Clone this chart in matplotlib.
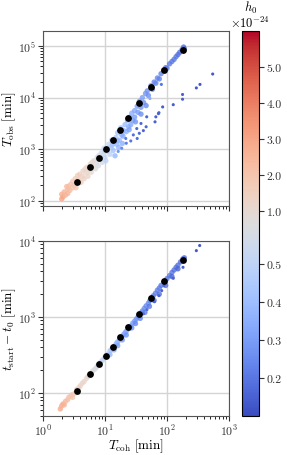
import numpy as np
import matplotlib
matplotlib.use("Agg")
import matplotlib.pyplot as plt
from matplotlib.colors import FuncNorm

plt.rcParams['font.family'] = 'cmr10'
plt.rcParams['mathtext.fontset'] = 'cm'
plt.rcParams['axes.formatter.use_mathtext'] = True
plt.rcParams['font.size'] = 9

### DATA ###

# top panel: T_coh vs T_obs, colour = h0 [1e-24]
top_x = [2.0, 2.0, 2.1, 2.2, 2.3, 2.5, 2.5, 2.6, 2.7, 2.8,
         3.0, 3.0, 3.2, 3.3, 3.4, 3.8, 3.9, 4.1, 4.3, 4.4, 4.6,
         5.0, 5.1, 5.3, 5.6, 5.8, 6.0, 6.5, 6.6, 7.0, 7.3, 7.5, 7.8,
         8.5, 8.7, 9.0, 9.4, 9.6, 10.0, 10.3,
         11, 11.5, 12, 12.5, 12.8, 13.5, 14, 14.5,
         15, 15.5, 16, 16.5, 17, 18, 18.5, 19, 20,
         21, 22, 23, 24, 25, 26, 27, 28, 30, 30,
         33, 34, 36, 38, 40, 42, 45,
         48, 50, 55, 58, 62, 66, 70, 75, 80,
         88, 95, 100, 110, 120, 130, 140, 150, 160, 175, 185, 190,
         2.4, 3.6, 4.8, 6.2, 8.0, 9.8, 11.2, 13.0, 15.8, 19.5, 24.5, 31, 38, 46]
top_y = [110, 135, 120, 150, 130, 170, 140, 195, 160, 210,
         180, 240, 200, 270, 180, 260, 330, 230, 300, 380, 270,
         350, 450, 300, 400, 520, 360, 480, 600, 420, 560, 700, 480,
         650, 850, 560, 780, 1050, 700, 600,
         900, 1250, 800, 1100, 1500, 950, 1300, 750,
         1700, 1250, 2100, 1100, 1500, 2600, 1900, 1300, 2300,
         3000, 2200, 3600, 2700, 4200, 3000, 5000, 3600, 5600, 4200,
         6800, 5200, 8500, 6500, 10000, 8000, 12000,
         13500, 11000, 17000, 14500, 20000, 19000, 24000, 23000, 29000,
         34000, 38000, 37000, 45000, 50000, 55000, 62000, 68000, 75000, 85000, 95000, 88000,
         190, 310, 420, 560, 760, 930, 1050, 1200, 1450, 1800, 2400, 3400, 4800, 7000]
top_h = [3.0, 2.7, 2.9, 2.5, 2.6, 2.3, 2.5, 2.0, 2.3, 1.9,
         2.0, 1.7, 1.9, 1.5, 1.8, 1.5, 1.4, 1.6, 1.4, 1.25, 1.35,
         1.2, 1.1, 1.2, 1.1, 1.0, 1.0, 0.95, 0.9, 0.9, 0.85, 0.8, 0.8,
         0.75, 0.7, 0.7, 0.65, 0.62, 0.6, 0.5,
         0.58, 0.55, 0.5, 0.5, 0.48, 0.42, 0.45, 0.38,
         0.45, 0.42, 0.43, 0.38, 0.4, 0.42, 0.38, 0.35, 0.37,
         0.4, 0.36, 0.38, 0.35, 0.36, 0.33, 0.35, 0.32, 0.33, 0.3,
         0.32, 0.3, 0.3, 0.28, 0.3, 0.27, 0.28,
         0.27, 0.26, 0.26, 0.25, 0.25, 0.24, 0.24, 0.23, 0.23,
         0.22, 0.22, 0.21, 0.21, 0.2, 0.2, 0.2, 0.19, 0.19, 0.18, 0.18, 0.18,
         2.3, 1.6, 1.2, 1.0, 0.8, 0.6, 0.5, 0.42, 0.38, 0.34, 0.31, 0.28, 0.26, 0.25]

# top panel outliers (scattered below the band)
top_out_x = [545, 340, 297, 178, 178, 126, 85, 74, 66, 47, 64, 46, 38, 41.5, 32.5,
             35.7, 28.6, 81, 53, 72.6, 33, 26, 22, 21.6, 18.6, 16.3]
top_out_y = [28600, 18000, 15400, 11500, 9300, 7300, 6600, 5100, 4250, 4250, 3400, 2730, 3160,
             2300, 2520, 2040, 1900, 18000, 9600, 4900, 1620, 1450, 1310, 1620, 1050, 910]
top_out_h = [0.13, 0.13, 0.13, 0.15, 0.15, 0.14, 0.14, 0.14, 0.15, 0.16, 0.15, 0.16, 0.17,
             0.16, 0.17, 0.17, 0.18, 0.2, 0.35, 0.15, 0.18, 0.2, 0.22, 0.22, 0.25, 0.28]

# bottom panel: T_coh vs t_start - t0
bot_x = [1.9, 2.0, 2.1, 2.2, 2.3, 2.5, 2.6, 2.8, 3.0, 3.0, 3.3, 3.5, 3.8, 4.0, 4.3, 4.6,
         5.0, 5.3, 5.6, 6.0, 6.3, 6.8, 7.2, 7.6, 8.0, 8.5, 9.0, 9.5, 10, 10.5, 11, 11.5,
         12, 12.5, 13, 14, 15, 15.5, 16, 17, 18, 19, 20, 21, 22, 24, 25, 26, 28, 30,
         32, 34, 36, 38, 40, 43, 46, 50, 53, 56, 60, 65, 70, 75, 80, 90, 100, 110,
         120, 130, 140, 150, 165, 180, 190,
         12, 14, 16, 19, 22, 27, 31, 37, 44, 52, 62, 75, 95, 120, 150]
bot_y = [62, 68, 72, 70, 78, 82, 88, 92, 96, 88, 100, 112, 118, 125, 135, 142,
         155, 165, 172, 180, 195, 205, 215, 230, 238, 255, 268, 280, 295, 310, 325, 330,
         360, 365, 385, 410, 440, 455, 470, 500, 535, 560, 590, 620, 650, 700, 740, 760, 830, 880,
         940, 1000, 1080, 1130, 1200, 1300, 1400, 1520, 1650, 1750, 1900, 2050, 2250, 2400, 2600,
         2900, 3200, 3500, 3850, 4150, 4500, 4800, 5300, 5800, 6000,
         320, 370, 420, 500, 580, 720, 820, 960, 1150, 1380, 1650, 2000, 2600, 3400, 4300]
bot_h = [2.9, 2.7, 2.8, 2.5, 2.4, 2.2, 2.0, 1.9, 1.7, 1.9, 1.6, 1.45, 1.35, 1.3, 1.2, 1.15,
         1.1, 1.05, 1.0, 0.95, 0.9, 0.85, 0.8, 0.75, 0.7, 0.65, 0.62, 0.6, 0.55, 0.52, 0.5, 0.5,
         0.48, 0.45, 0.45, 0.42, 0.4, 0.4, 0.38, 0.38, 0.36, 0.35, 0.35, 0.34, 0.33, 0.32, 0.32,
         0.3, 0.3, 0.3, 0.28, 0.28, 0.27, 0.27, 0.26, 0.26, 0.25, 0.25, 0.24, 0.24, 0.23, 0.23,
         0.22, 0.22, 0.21, 0.21, 0.2, 0.2, 0.2, 0.19, 0.19, 0.19, 0.18, 0.18, 0.18,
         0.4, 0.35, 0.32, 0.3, 0.28, 0.26, 0.25, 0.24, 0.22, 0.21, 0.2, 0.19, 0.18, 0.17, 0.16]

bot_out_x = [336, 297, 181, 126, 82, 74, 62.6, 47.5, 41.5, 89]
bot_out_y = [8700, 7450, 4500, 3230, 2220, 1910, 1590, 1250, 1100, 2580]
bot_out_h = [0.13, 0.13, 0.14, 0.15, 0.16, 0.16, 0.17, 0.18, 0.18, 0.16]

# binned means (black dots)
mean_x = [3.5, 5.8, 8.1, 10.4, 13.3, 17.5, 23.8, 35.3, 55.2, 89.5, 179]
mean_tobs = [229, 445, 690, 1020, 1510, 2400, 4070, 7800, 16000, 33500, 85000]
mean_tstart = [105, 176, 240, 310, 400, 540, 745, 1090, 1780, 2950, 5600]

# colour scale (piecewise, as on the reference colour bar)
norm_vals = [0.1, 0.5, 1.0, 6.0]
norm_pos = [0.0, 0.395, 0.532, 1.0]
cbar_ticks = [0.2, 0.3, 0.4, 0.5, 1.0, 2.0, 3.0, 4.0, 5.0]

### PLOT ###

def fwd(v):
    return np.interp(v, norm_vals, norm_pos)

def inv(u):
    return np.interp(u, norm_pos, norm_vals)

norm = FuncNorm((fwd, inv), vmin=0.1, vmax=6.0)
cmap = plt.get_cmap('coolwarm')

fig = plt.figure(figsize=(2.87, 4.56), dpi=100)
ax1 = fig.add_axes([0.150, 0.546, 0.648, 0.384])
ax2 = fig.add_axes([0.150, 0.0855, 0.648, 0.384])
cax = fig.add_axes([0.843, 0.0855, 0.059, 0.844])

panels = [(ax1, top_x, top_y, top_h, top_out_x, top_out_y, top_out_h, mean_tobs),
          (ax2, bot_x, bot_y, bot_h, bot_out_x, bot_out_y, bot_out_h, mean_tstart)]

for ax, x, y, h, ox, oy, oh, my in panels:
    ax.set_xscale('log')
    ax.set_yscale('log')
    ax.set_axisbelow(True)
    ax.grid(True, which='major', color='#d4d4d4', lw=1.0)
    sc = ax.scatter(x, y, c=h, cmap=cmap, norm=norm, s=15, alpha=0.8, linewidths=0)
    ax.scatter(ox, oy, c=oh, cmap=cmap, norm=norm, s=5, linewidths=0)
    ax.scatter(mean_x, my, color='black', s=24, zorder=5, linewidths=0)
    ax.set_xlim(1, 1000)
    for sp in ax.spines.values():
        sp.set_color('#555555')
    ax.tick_params(colors='#333333', labelsize=8.5, pad=1.5)

ax1.set_ylim(80, 1.95e5)
ax2.set_ylim(50, 1e4)
ax1.tick_params(labelbottom=False)
ax1.set_ylabel(r'$T_{\rm obs}\ [\rm min]$', fontsize=9.5)
ax2.set_ylabel(r'$t_{\rm start} - t_0\ [\rm min]$', fontsize=9.5)
ax2.set_xlabel(r'$T_{\rm coh}\ [\rm min]$', fontsize=9.5)
ax1.yaxis.set_label_coords(-0.135, 0.5)
ax2.yaxis.set_label_coords(-0.135, 0.5)
ax2.xaxis.set_label_coords(0.5, -0.115)

cb = fig.colorbar(sc, cax=cax)
cb.solids.set_alpha(1)
cb.set_ticks(cbar_ticks)
cb.set_ticklabels(['%.1f' % t for t in cbar_ticks])
cb.ax.tick_params(labelsize=8.5, colors='#333333', pad=2)
cb.ax.minorticks_off()
fig.text(0.872, 0.965, r'$h_0$', ha='center', va='bottom', fontsize=9)
fig.text(0.872, 0.932, r'$\times10^{-24}$', ha='center', va='bottom', fontsize=9)

fig.savefig('out.png', dpi=100)
